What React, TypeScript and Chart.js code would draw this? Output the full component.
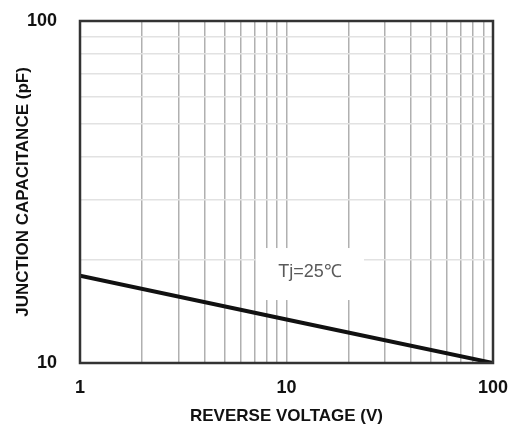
import React, { useEffect, useRef } from "react";
import { Chart, registerables } from "chart.js";

Chart.register(...registerables);

// Data
const voltage = [1, 10, 100];
const capacitance = [18, 13.4, 10];
const xTickValues = [1, 2, 3, 4, 5, 6, 7, 8, 9, 10, 20, 30, 40, 50, 60, 70, 80, 90, 100];
const yTickValues = [10, 20, 30, 40, 50, 60, 70, 80, 90, 100];
const labelText = "Tj=25℃";
const labelAt = { x: 13.0, y: 18.45 };

const FONT = "'Liberation Sans', Arial, sans-serif";

const isDecade = (v: number) => Math.abs(Math.log10(v) - Math.round(Math.log10(v))) < 1e-9;

const framePlugin = {
  id: "frameAndLabel",
  afterDatasetsDraw(chart: any) {
    const { ctx, chartArea, scales } = chart;
    ctx.save();
    // label box
    const cx = scales.x.getPixelForValue(labelAt.x);
    const cy = scales.y.getPixelForValue(labelAt.y);
    ctx.fillStyle = "#ffffff";
    ctx.fillRect(cx - 54, cy - 24, 108, 52);
    ctx.fillStyle = "#5a5a5a";
    ctx.font = `18px ${FONT}`;
    ctx.textAlign = "center";
    ctx.textBaseline = "middle";
    ctx.fillText(labelText, cx, cy);
    // frame
    ctx.strokeStyle = "#333333";
    ctx.lineWidth = 2.5;
    ctx.strokeRect(chartArea.left, chartArea.top, chartArea.right - chartArea.left, chartArea.bottom - chartArea.top);
    ctx.restore();
  },
};

export default function App() {
  const ref = useRef<HTMLCanvasElement | null>(null);

  useEffect(() => {
    document.body.style.margin = "0";
    if (!ref.current) return;
    const chart = new Chart(ref.current, {
      type: "line",
      data: {
        datasets: [
          {
            data: voltage.map((v, i) => ({ x: v, y: capacitance[i] })),
            borderColor: "#111111",
            borderWidth: 4,
            pointRadius: 0,
            fill: false,
            tension: 0,
          },
        ],
      },
      options: {
        animation: false,
        responsive: false,
        maintainAspectRatio: false,
        layout: { padding: { top: 21, right: 25, left: 0, bottom: 0 } },
        plugins: { legend: { display: false }, tooltip: { enabled: false } },
        scales: {
          x: {
            type: "logarithmic",
            min: 1,
            max: 100,
            afterBuildTicks: (scale: any) => {
              scale.ticks = xTickValues.map((v) => ({ value: v, major: isDecade(v) }));
            },
            afterFit: (scale: any) => {
              scale.height = 67;
              scale.paddingLeft = 0;
              scale.paddingRight = 0;
            },
            ticks: {
              autoSkip: false,
              maxRotation: 0,
              padding: 14,
              color: "#111111",
              font: { family: FONT, size: 18, weight: "bold" },
              callback: (v: any) => (isDecade(Number(v)) ? String(v) : ""),
            },
            grid: { color: "#b0b0b0", lineWidth: 1.5, drawTicks: false },
            border: { display: false },
            title: {
              display: true,
              text: "REVERSE VOLTAGE (V)",
              color: "#111111",
              font: { family: FONT, size: 17, weight: "bold" },
              padding: { top: 0, bottom: 3 },
            },
          },
          y: {
            type: "logarithmic",
            min: 10,
            max: 100,
            afterBuildTicks: (scale: any) => {
              scale.ticks = yTickValues.map((v) => ({ value: v, major: isDecade(v) }));
            },
            afterFit: (scale: any) => {
              scale.width = 80;
              scale.paddingTop = 0;
              scale.paddingBottom = 0;
            },
            ticks: {
              autoSkip: false,
              padding: 23,
              color: "#111111",
              font: { family: FONT, size: 18, weight: "bold" },
              callback: (v: any) => (isDecade(Number(v)) ? String(v) : ""),
            },
            grid: { color: "#e2e2e2", lineWidth: 1.5, drawTicks: false },
            border: { display: false },
            title: {
              display: true,
              text: "JUNCTION CAPACITANCE (pF)",
              color: "#111111",
              font: { family: FONT, size: 17, weight: "bold" },
              padding: { top: 13, bottom: 0 },
            },
          },
        },
      },
      plugins: [framePlugin],
    } as any);
    return () => chart.destroy();
  }, []);

  return (
    <div style={{ position: "fixed", left: 0, top: 0, width: 518, height: 430 }}>
      <canvas ref={ref} width={518} height={430} />
    </div>
  );
}
